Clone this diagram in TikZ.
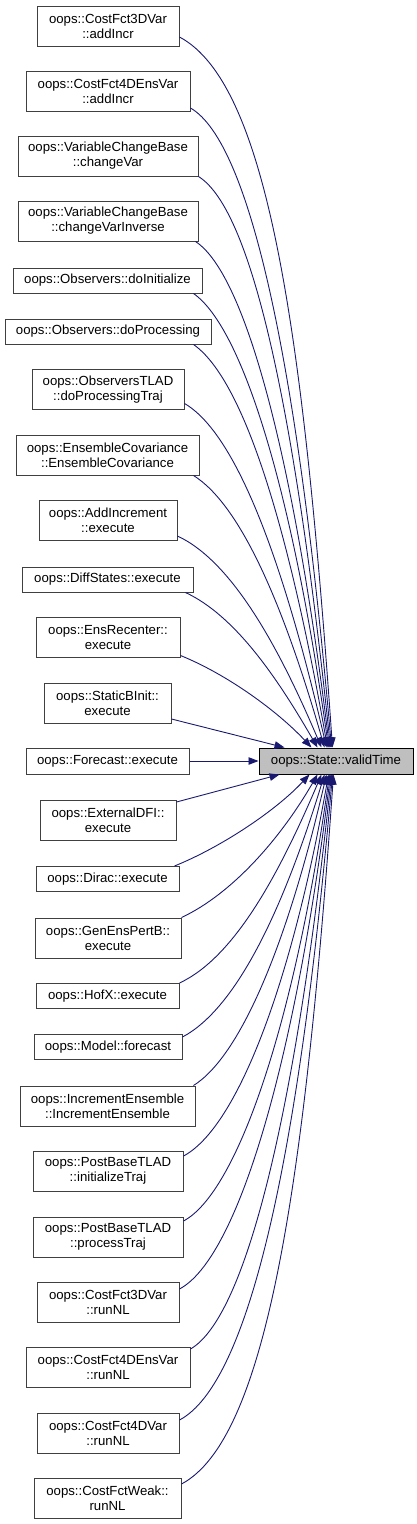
\documentclass[tikz,border=0pt]{standalone}
\usepackage{fontspec}
\setmainfont{Liberation Sans}
\usetikzlibrary{arrows.meta}
\definecolor{edgeblue}{HTML}{191970}
\definecolor{boxgray}{HTML}{404040}
\definecolor{targetfill}{HTML}{BFBFBF}
\begin{document}
\begin{tikzpicture}[x=1pt,y=1pt,
  fn/.style={draw=boxgray, line width=1pt, fill=white, inner sep=0pt, align=center,
    font=\fontsize{13.2}{15}\selectfont, minimum height=40pt},
  one/.style={fn, minimum height=25pt},
  tgt/.style={fn, minimum height=26pt, fill=targetfill, draw=black},
  e/.style={draw=edgeblue, line width=0.9pt, -{Triangle[length=10pt,width=7.5pt]}}
]
\useasboundingbox (0,0) rectangle (417,-1524);
% target
\node[tgt, minimum width=154pt] (T) at (336,-761) {oops::State::validTime};
% callers
\node[fn, minimum width=142pt] (n1) at (108,-26) {oops::CostFct3DVar\\::addIncr};
\node[fn, minimum width=164pt] (n2) at (108,-91) {oops::CostFct4DEnsVar\\::addIncr};
\node[fn, minimum width=180pt] (n3) at (108,-156) {oops::VariableChangeBase\\::changeVar};
\node[fn, minimum width=180pt] (n4) at (108,-221) {oops::VariableChangeBase\\::changeVarInverse};
\node[one, minimum width=189pt] (n5) at (107.5,-280.5) {oops::Observers::doInitialize};
\node[one, minimum width=206pt] (n6) at (108,-331.5) {oops::Observers::doProcessing};
\node[fn, minimum width=152pt] (n7) at (108,-389.5) {oops::ObserversTLAD\\::doProcessingTraj};
\node[fn, minimum width=183pt] (n8) at (107.5,-455) {oops::EnsembleCovariance\\::EnsembleCovariance};
\node[fn, minimum width=138pt] (n9) at (108,-520) {oops::AddIncrement\\::execute};
\node[one, minimum width=171pt] (n10) at (107.5,-579.5) {oops::DiffStates::execute};
\node[fn, minimum width=144pt] (n11) at (108,-637.5) {oops::EnsRecenter::\\execute};
\node[fn, minimum width=127pt] (n12) at (107.5,-703) {oops::StaticBInit::\\execute};
\node[one, minimum width=163pt, minimum height=26pt] (n13) at (107.5,-761) {oops::Forecast::execute};
\node[fn, minimum width=136pt] (n14) at (108,-820) {oops::ExternalDFI::\\execute};
\node[one, minimum width=143pt] (n15) at (107.5,-879) {oops::Dirac::execute};
\node[fn, minimum width=146pt] (n16) at (108,-938) {oops::GenEnsPertB::\\execute};
\node[one, minimum width=143pt] (n17) at (107.5,-996) {oops::HofX::execute};
\node[one, minimum width=148pt] (n18) at (108,-1047) {oops::Model::forecast};
\node[fn, minimum width=175pt] (n19) at (107.5,-1106) {oops::IncrementEnsemble\\::IncrementEnsemble};
\node[fn, minimum width=150pt] (n20) at (108,-1171) {oops::PostBaseTLAD\\::initializeTraj};
\node[fn, minimum width=150pt] (n21) at (108,-1237) {oops::PostBaseTLAD\\::processTraj};
\node[fn, minimum width=142pt] (n22) at (108,-1302) {oops::CostFct3DVar\\::runNL};
\node[fn, minimum width=164pt] (n23) at (108,-1367) {oops::CostFct4DEnsVar\\::runNL};
\node[fn, minimum width=142pt] (n24) at (108,-1433) {oops::CostFct4DVar\\::runNL};
\node[fn, minimum width=147pt] (n25) at (107.5,-1498) {oops::CostFctWeak::\\runNL};
% edges into top of target
\draw[e] ([yshift=-11pt]n1.east) .. controls +(-28:100) and +(94:420) .. ([xshift=74pt]T.north west);
\draw[e] ([yshift=-17pt]n2.east) .. controls +(-30:70) and +(95:380) .. ([xshift=73pt]T.north west);
\draw[e] (n3.south east) .. controls +(-32:65) and +(96:330) .. ([xshift=72pt]T.north west);
\draw[e] ([xshift=-3pt]n4.south east) .. controls +(-33:60) and +(97:290) .. ([xshift=71pt]T.north west);
\draw[e] ([xshift=-9pt]n5.south east) .. controls +(-35:60) and +(98:260) .. ([xshift=70pt]T.north west);
\draw[e] ([xshift=-18pt]n6.south east) .. controls +(-35:60) and +(100:230) .. ([xshift=69pt]T.north west);
\draw[e] ([yshift=-14pt]n7.east) .. controls +(-30:60) and +(103:190) .. ([xshift=68pt]T.north west);
\draw[e] ([xshift=-6pt]n8.south east) .. controls +(-32:55) and +(106:150) .. ([xshift=66pt]T.north west);
\draw[e] ([yshift=-16pt]n9.east) .. controls +(-25:60) and +(113:110) .. ([xshift=63pt]T.north west);
\draw[e] ([xshift=-8pt]n10.south east) .. controls +(-25:55) and +(120:80) .. ([xshift=59pt]T.north west);
\draw[e] ([yshift=-18pt]n11.east) .. controls +(-22:50) and +(133:50) .. ([xshift=53pt]T.north west);
\draw[e] ([yshift=-16pt]n12.east) -- ([xshift=26pt]T.north west);
% side
\draw[e] (n13) -- (T);
% edges into bottom of target
\draw[e] ([yshift=18pt]n14.east) -- ([xshift=21pt]T.south west);
\draw[e] ([xshift=-5pt]n15.north east) .. controls +(22:50) and +(-133:50) .. ([xshift=51pt]T.south west);
\draw[e] (n16.north east) .. controls +(25:55) and +(-120:75) .. ([xshift=59pt]T.south west);
\draw[e] (n17.north east) .. controls +(25:60) and +(-113:110) .. ([xshift=63pt]T.south west);
\draw[e] ([yshift=10pt]n18.east) .. controls +(28:60) and +(-107:145) .. ([xshift=66pt]T.south west);
\draw[e] ([xshift=-2pt]n19.north east) .. controls +(32:55) and +(-103:175) .. ([xshift=68pt]T.south west);
\draw[e] ([yshift=15pt]n20.east) .. controls +(28:60) and +(-100:215) .. ([xshift=70pt]T.south west);
\draw[e] ([yshift=16pt]n21.east) .. controls +(28:60) and +(-98:255) .. ([xshift=71pt]T.south west);
\draw[e] ([yshift=13pt]n22.east) .. controls +(28:65) and +(-97:295) .. ([xshift=72pt]T.south west);
\draw[e] ([yshift=18pt]n23.east) .. controls +(30:65) and +(-96:335) .. ([xshift=73pt]T.south west);
\draw[e] ([yshift=13pt]n24.east) .. controls +(28:80) and +(-95:380) .. ([xshift=74pt]T.south west);
\draw[e] ([yshift=14pt]n25.east) .. controls +(28:95) and +(-94:420) .. ([xshift=75pt]T.south west);
\end{tikzpicture}
\end{document}
